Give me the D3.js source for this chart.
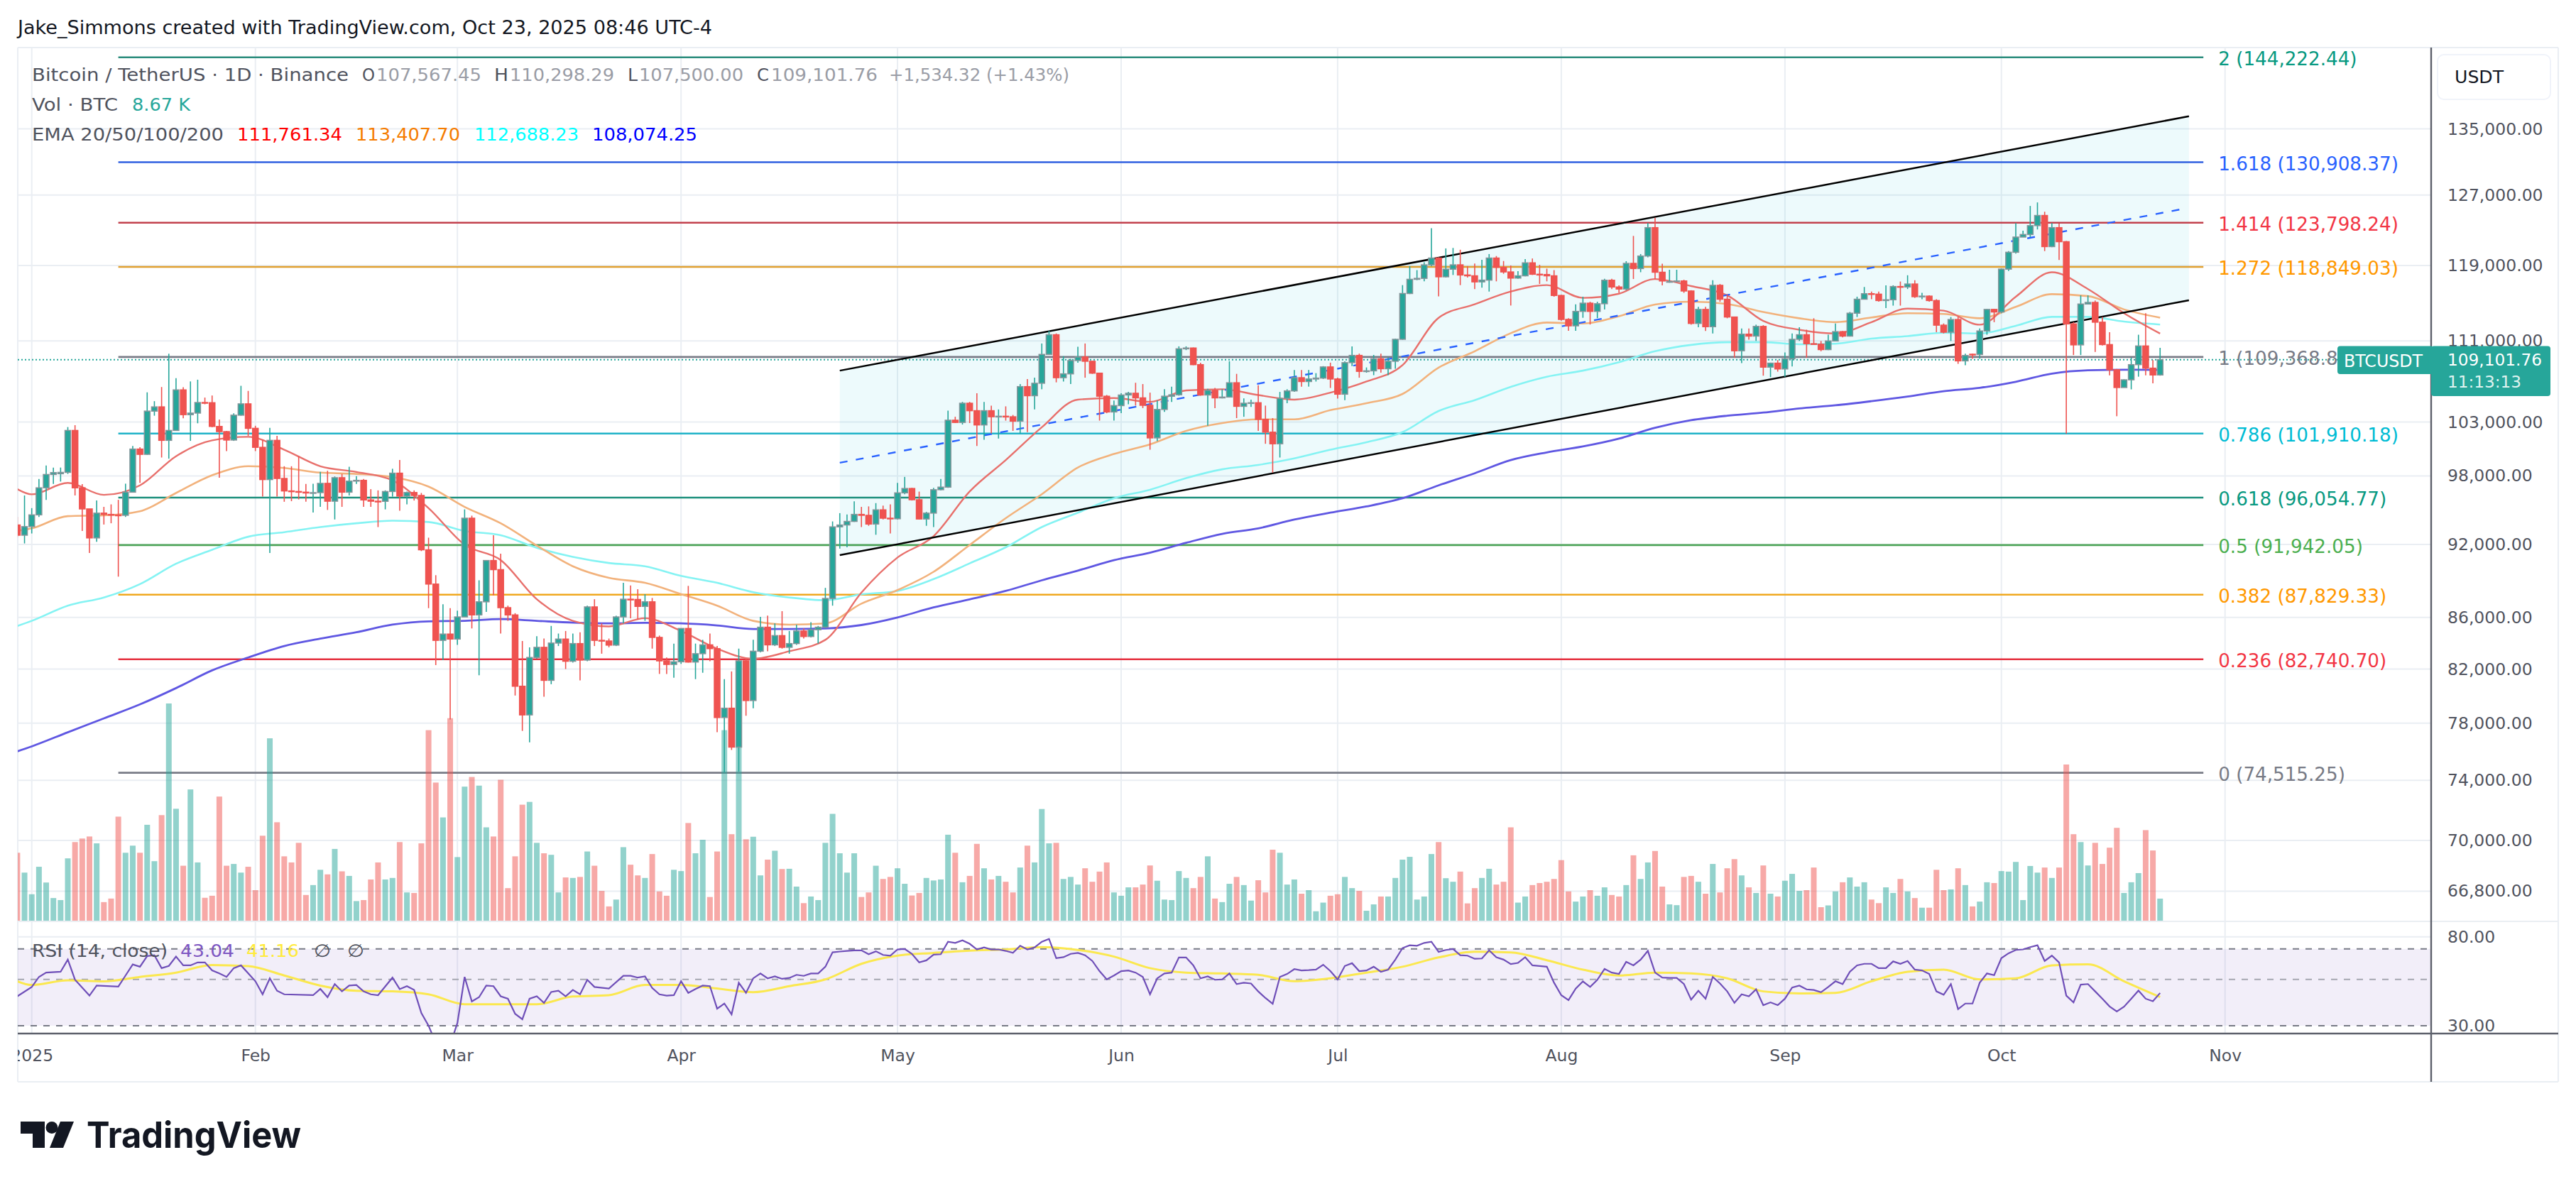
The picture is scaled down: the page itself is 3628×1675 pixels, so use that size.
<!DOCTYPE html>
<html>
<head>
<meta charset="utf-8">
<style>
  html, body { margin: 0; padding: 0; background: #fff; }
  svg { display: block; }
  text { font-family: "DejaVu Sans", sans-serif; }
  .axis .domain { display: none; }
  .axis text { fill: #50535e; font-size: 23.5px; font-family: "DejaVu Sans", sans-serif; }
</style>
</head>
<body>
<div id="chart"></div>
<script src="https://d3js.org/d3.v7.min.js"></script>
<script>
// prices are in thousand USDT, volume in thousand BTC, one candle per day
// day 0 is 1 Jan 2025, the first candle is day -2
var opens = [
93.66,92.78,93.52,94.54,96.93,98.13,98.20,98.32,102.20,96.93,95.06,92.55,94.69,94.58,94.53,94.50,96.54,100.46,99.97,104.04,
104.45,101.27,102.20,106.10,103.70,103.85,104.87,104.85,102.58,102.09,101.30,103.65,104.74,102.40,100.62,97.67,101.27,97.77,96.65,96.60,
96.54,96.47,96.50,97.33,95.74,97.84,96.54,97.53,97.60,95.85,95.74,95.73,96.60,98.25,96.19,96.51,96.25,91.54,88.69,84.20,
84.69,84.30,86.04,94.25,86.20,87.25,90.64,89.88,86.78,86.20,80.71,78.60,82.88,83.66,81.15,83.99,84.30,82.59,83.95,82.68,
86.84,84.20,84.15,83.83,86.04,87.46,87.44,86.88,87.25,84.43,82.62,82.35,82.55,85.13,82.53,83.17,83.85,83.56,78.41,79.09,
76.30,82.62,79.65,83.36,85.23,83.85,84.57,83.66,83.95,84.93,84.50,85.03,85.23,87.52,93.50,93.66,93.97,94.58,94.50,93.74,
94.98,94.25,94.20,96.48,96.87,95.87,94.18,94.69,96.76,96.99,103.17,102.96,104.80,104.08,102.72,104.08,103.50,103.55,103.50,103.08,
106.42,105.53,106.75,109.63,111.64,107.30,107.68,109.01,109.37,108.94,107.75,105.48,103.96,104.57,105.60,105.77,105.32,104.60,101.50,104.20,
105.48,105.62,110.20,110.28,108.60,105.60,106.05,105.32,105.40,106.80,104.50,104.80,104.85,103.25,102.04,100.95,105.27,106.00,107.30,106.92,
107.17,107.26,108.37,107.17,105.68,108.80,109.53,107.93,107.98,109.19,108.19,108.94,111.17,115.97,117.50,117.60,119.08,119.83,117.77,118.60,
119.08,117.97,117.88,117.22,117.41,119.83,118.80,118.30,117.63,117.88,119.30,118.05,118.02,117.88,115.76,113.23,112.56,114.07,114.94,114.07,
114.88,117.40,116.67,116.45,119.24,118.67,120.05,123.24,118.27,117.20,117.26,117.32,116.24,112.81,114.28,112.47,116.85,115.36,113.48,110.00,
111.70,111.50,112.50,108.35,108.75,108.17,109.19,111.17,111.64,110.72,110.67,110.12,111.00,111.96,111.50,113.88,115.36,115.95,115.90,115.22,
115.30,116.72,116.67,116.99,115.63,115.69,115.22,112.63,111.90,113.22,108.98,109.65,109.62,112.03,114.28,114.01,118.61,120.47,122.17,122.46,
123.47,124.63,121.10,123.24,121.65,112.76,110.60,114.85,115.02,112.94,110.63,108.09,106.33,107.09,108.60,110.49,108.25,107.57];
var closes = [
92.78,93.52,94.54,96.93,98.13,98.30,98.32,102.20,96.93,95.06,92.55,94.69,94.58,94.53,94.50,96.54,100.46,99.97,104.04,104.45,
101.27,102.20,106.10,103.70,103.85,104.87,104.85,102.58,102.09,101.30,103.65,104.74,102.40,100.62,97.67,101.27,97.77,96.65,96.60,96.54,
96.47,96.50,97.33,95.74,97.84,96.54,97.53,97.60,95.85,95.74,95.73,96.60,98.25,96.19,96.51,96.25,91.54,88.69,84.20,84.69,
84.30,86.04,94.25,86.20,87.25,90.64,89.88,86.78,86.20,80.71,78.60,82.88,83.66,81.15,83.99,84.30,82.59,83.95,82.68,86.84,
84.20,84.15,83.83,86.04,87.46,87.44,86.88,87.25,84.43,82.62,82.35,82.55,85.13,82.53,83.17,83.85,83.56,78.41,79.09,76.30,
82.62,79.65,83.36,85.23,83.85,84.57,83.66,83.95,84.93,84.50,85.03,85.23,87.52,93.50,93.66,93.97,94.58,94.50,93.74,94.98,
94.25,94.20,96.48,96.87,95.87,94.18,94.69,96.76,96.99,103.17,102.96,104.80,104.08,102.72,104.08,103.50,103.55,103.50,103.08,106.42,
105.53,106.75,109.63,111.64,107.30,107.68,109.01,109.37,108.94,107.75,105.48,103.96,104.57,105.60,105.77,105.32,104.60,101.50,104.20,105.48,
105.62,110.20,110.28,108.60,105.60,106.05,105.32,105.40,106.80,104.50,104.80,104.85,103.25,102.04,100.95,105.27,106.00,107.30,106.92,107.17,
107.26,108.37,107.17,105.68,108.80,109.53,107.93,107.98,109.19,108.19,108.94,111.17,115.97,117.50,117.60,119.08,119.83,117.77,118.60,119.08,
117.97,117.88,117.22,117.41,119.83,118.80,118.30,117.63,117.88,119.30,118.05,118.02,117.88,115.76,113.23,112.56,114.07,114.94,114.07,114.88,
117.40,116.67,116.45,119.24,118.67,120.05,123.24,118.27,117.32,117.26,117.32,116.24,112.81,114.28,112.47,116.85,115.36,113.48,110.00,111.70,
111.50,112.50,108.35,108.75,108.17,109.19,111.17,111.64,110.72,110.67,110.12,111.00,111.96,111.50,113.88,115.36,115.95,115.90,115.22,115.30,
116.72,116.67,116.99,115.63,115.69,115.22,112.63,111.90,113.22,108.98,109.52,109.62,112.03,114.28,114.01,118.61,120.47,122.17,122.46,123.47,
124.63,121.10,123.24,121.65,112.76,110.60,114.85,115.02,112.94,110.63,108.09,106.33,107.09,108.60,110.49,108.25,107.57,109.10];
var highs = [
94.36,96.25,95.13,97.72,98.95,98.76,98.76,102.52,102.70,97.26,95.02,95.80,95.24,95.46,95.86,97.30,100.74,100.63,105.86,105.00,
106.38,109.70,107.25,106.36,106.93,107.10,105.35,105.55,103.24,102.16,103.83,106.50,106.00,102.64,101.33,102.45,101.69,98.88,98.88,99.80,
97.27,97.30,98.36,98.47,97.95,98.18,98.83,97.98,97.72,96.81,96.70,96.70,98.65,99.45,96.60,96.70,96.47,92.57,89.42,87.05,
86.74,86.54,95.02,94.47,89.00,90.64,92.78,91.21,86.94,86.34,84.15,83.66,84.53,84.34,85.33,84.73,84.93,84.73,84.83,86.94,
87.46,85.53,84.34,86.14,88.79,88.58,88.27,87.87,87.56,84.57,82.88,83.95,85.13,88.54,83.95,84.24,84.73,83.76,81.24,81.82,
83.56,82.78,84.24,86.04,86.14,85.53,86.50,84.93,85.43,85.13,85.63,85.33,88.38,93.97,94.69,94.58,95.73,95.24,95.28,95.57,
95.35,95.46,97.38,97.91,96.93,96.59,94.80,96.93,97.72,104.08,103.50,104.93,104.93,105.77,104.93,104.57,104.20,104.50,103.67,106.67,
107.17,107.30,110.74,112.04,111.77,109.45,109.19,110.41,110.74,108.94,107.80,105.60,105.07,105.77,105.90,106.80,106.67,105.83,105.07,106.16,
106.42,110.45,110.45,110.33,108.80,106.20,106.29,106.16,108.94,107.68,105.27,105.15,106.55,104.57,103.37,105.90,106.16,108.07,108.07,108.07,
107.75,108.45,108.80,107.30,108.94,110.45,109.71,108.32,109.58,109.71,109.32,111.25,116.87,118.94,118.50,119.36,123.17,119.90,120.90,120.95,
120.75,118.94,119.22,119.64,120.27,120.05,119.50,119.00,118.38,119.72,119.78,119.08,118.66,118.50,115.84,113.36,114.82,115.63,115.09,115.09,
117.55,117.55,116.85,119.48,122.30,120.27,123.76,124.37,119.20,118.54,118.54,117.45,116.32,114.55,114.55,117.40,116.99,115.90,113.48,112.29,
112.29,112.68,112.63,108.80,109.06,109.83,111.77,112.42,112.16,113.35,111.00,111.64,112.81,112.03,114.01,115.63,116.67,116.17,116.17,116.85,
116.85,117.26,117.94,117.40,116.04,115.77,115.36,112.81,113.48,113.53,109.70,109.70,112.29,114.33,114.33,118.67,120.60,123.76,122.90,125.73,
126.14,125.06,123.76,123.70,121.73,112.94,115.77,115.77,115.22,113.48,111.90,108.17,107.14,109.30,111.64,113.88,109.06,110.30];
var lows = [
92.60,92.08,92.93,94.36,95.85,97.27,97.49,98.18,96.25,93.15,91.27,92.22,93.70,93.81,89.30,94.36,96.60,97.37,99.92,103.60,
99.68,99.57,102.16,103.36,101.22,102.88,104.70,102.50,97.84,100.27,101.22,103.60,101.69,100.27,96.15,91.27,96.15,95.69,95.74,95.90,
95.69,94.75,95.24,94.97,94.14,95.24,96.25,97.27,95.24,95.24,93.48,95.02,96.15,94.90,95.46,95.80,91.43,86.74,82.30,82.68,
78.27,83.85,86.14,85.13,81.53,86.44,87.77,84.73,85.73,80.02,77.45,76.64,82.78,79.93,80.86,83.76,82.00,82.49,81.15,82.59,
83.76,83.17,83.66,83.76,85.53,85.94,85.83,85.73,83.56,81.63,81.63,81.34,82.39,82.49,81.24,81.72,82.59,77.35,74.52,76.10,
74.60,78.54,79.09,83.27,83.36,83.76,83.56,83.17,83.85,84.34,84.43,83.95,85.13,86.94,91.64,91.75,93.92,93.48,93.59,92.82,
94.14,92.93,94.14,96.36,95.80,94.14,93.59,93.48,96.70,96.93,102.90,102.76,102.90,100.75,101.33,101.92,101.44,103.13,102.16,101.92,
102.04,104.20,106.16,109.58,106.84,106.92,106.67,108.80,107.30,107.68,103.13,103.84,103.13,103.84,104.70,104.57,104.33,100.40,101.20,103.96,
104.93,105.53,110.07,108.55,105.53,102.65,104.33,105.27,105.40,103.37,103.50,104.45,102.16,100.95,98.30,99.68,104.80,105.90,106.42,106.42,
106.92,107.17,106.29,105.25,105.10,108.45,107.30,107.80,107.55,107.80,107.55,108.19,111.12,115.91,117.41,117.28,118.94,115.67,117.69,117.97,
116.87,117.69,116.45,116.59,116.18,117.28,118.10,114.69,117.55,117.83,117.97,117.00,117.28,115.63,113.10,112.04,112.04,113.40,112.70,113.36,
114.28,116.45,116.04,116.32,117.53,118.27,119.90,117.53,116.85,117.13,117.26,116.04,112.68,112.42,112.03,111.77,115.09,113.35,109.30,108.75,
111.13,111.00,107.50,107.35,107.90,107.40,108.42,111.00,109.30,110.64,109.95,110.07,111.00,111.37,111.45,113.48,115.36,115.36,115.09,114.42,
114.68,114.68,116.45,115.50,115.36,115.09,111.90,111.77,111.00,108.68,108.55,109.19,109.19,111.64,112.94,113.88,118.40,120.33,122.30,122.17,
123.03,120.60,121.04,119.62,101.90,109.57,109.57,114.94,109.88,110.53,107.53,103.55,106.33,106.15,107.40,107.53,106.74,107.50];
var volumes = [
26.7,18.9,10.4,21.2,15.0,8.9,8.1,24.5,30.9,32.3,33.1,30.4,7.3,8.7,40.9,26.7,29.5,26.7,37.7,23.4,
41.5,85.4,44.0,21.6,51.6,22.9,9.0,9.8,48.8,21.6,22.3,18.9,21.2,12.0,33.4,71.7,38.7,25.3,22.9,30.6,
10.1,14.0,20.0,18.2,28.2,19.4,17.6,7.7,8.1,16.2,22.9,16.2,16.8,30.9,11.1,10.9,30.4,74.9,54.3,40.6,
79.6,25.0,52.7,56.5,53.1,36.7,33.1,55.4,12.8,25.3,45.6,46.7,30.6,26.5,25.9,11.1,17.0,16.8,17.2,27.2,
21.6,11.7,5.6,8.3,28.9,22.0,17.8,16.8,26.2,11.5,9.8,20.0,19.5,38.4,26.5,31.8,9.3,27.2,74.9,34.0,
75.0,32.0,33.0,17.8,24.0,27.5,20.3,20.4,13.4,6.9,9.5,8.1,30.6,42.0,26.5,18.9,26.5,9.3,11.1,21.6,
16.4,17.2,20.6,14.5,9.9,10.9,16.8,15.8,16.2,33.8,26.7,15.1,17.6,30.2,20.6,16.2,17.6,15.3,11.1,20.9,
29.5,22.9,43.9,30.4,30.6,16.4,17.2,14.2,20.6,15.3,19.3,22.9,11.1,9.8,13.1,13.1,14.2,21.7,15.7,8.3,
8.1,19.5,16.8,12.8,17.2,25.3,8.7,7.3,14.5,17.2,14.0,7.9,15.9,11.1,27.9,26.7,14.2,16.2,10.6,12.0,
3.7,7.1,9.8,10.4,17.2,12.8,11.7,3.9,6.4,9.5,9.5,16.8,24.0,25.1,8.3,9.5,26.2,30.9,16.7,15.3,
19.3,6.8,12.8,16.8,20.4,14.2,15.3,36.7,7.1,9.5,14.0,14.8,15.3,16.4,23.8,11.5,7.5,9.5,12.0,9.8,
13.1,10.1,9.5,14.0,25.7,16.4,22.9,27.4,13.4,6.4,6.1,17.2,17.6,15.3,10.6,22.3,11.1,20.6,24.2,17.8,
13.1,10.9,21.7,10.6,9.5,15.7,18.4,11.7,12.0,20.9,5.3,6.0,11.5,15.1,17.0,13.4,15.1,8.3,6.9,13.1,
10.9,16.4,11.5,8.9,5.1,5.1,20.0,12.0,12.3,20.6,14.0,5.6,7.5,15.1,14.8,19.5,19.3,23.1,8.1,21.5,
18.9,20.9,16.8,20.9,61.4,34.0,30.9,21.7,30.6,22.3,28.7,36.5,10.9,15.1,18.7,35.6,27.6,8.67];

var maDays = [-2,0,5,10,15,20,25,30,35,40,45,50,55,60,65,70,75,80,85,90,95,100,105,110,
115,120,125,130,135,140,145,150,155,160,165,170,175,180,185,190,195,200,205,210,
215,220,225,230,235,240,245,250,255,260,265,270,275,280,285,290,295];
var ema20 = [96.82,96.35,97.37,96.30,97.15,99.80,101.27,101.60,100.40,98.88,98.36,97.60,95.13,91.97,90.68,87.46,85.73,85.29,85.94,84.93,83.56,82.78,83.36,84.24,
88.00,90.89,92.70,96.60,99.44,102.50,105.15,105.30,104.93,106.05,106.16,105.60,105.15,105.83,106.92,108.55,113.40,114.82,116.18,116.87,
115.50,115.95,117.53,116.77,115.77,113.07,112.16,111.77,112.94,114.36,114.15,112.68,115.63,118.27,116.45,113.88,111.76];
var ema50 = [93.15,93.37,94.43,94.50,94.86,96.47,98.06,98.88,98.72,98.30,98.18,97.90,97.04,95.24,93.81,91.90,90.16,89.20,88.79,87.87,86.94,85.73,85.43,85.53,
87.10,88.20,89.70,91.95,94.25,96.36,98.76,100.00,100.90,102.16,102.90,103.25,103.25,104.13,104.80,105.70,108.30,109.95,111.80,112.90,
112.80,113.56,114.80,115.10,114.85,114.01,113.35,112.94,113.43,113.88,113.80,113.35,114.55,115.90,115.69,114.28,113.41];
var ema100 = [85.33,85.73,86.94,87.60,88.69,90.37,91.54,92.65,93.04,93.48,93.81,94.03,93.92,93.15,92.78,91.71,90.94,90.43,90.16,89.36,88.79,88.03,87.60,87.38,
87.85,88.13,89.10,90.40,91.75,93.48,94.73,96.00,96.76,97.80,98.60,99.00,99.60,100.40,101.10,102.04,104.05,105.10,106.40,107.40,
108.00,108.85,109.95,110.60,110.87,110.87,110.66,110.72,111.24,111.50,111.85,111.77,112.56,113.50,113.50,113.00,112.69];
var ema200 = [76.00,76.35,77.35,78.35,79.37,80.57,81.90,82.88,83.76,84.33,84.83,85.43,85.69,85.73,85.87,85.73,85.59,85.53,85.57,85.53,85.37,85.09,85.09,85.13,
85.40,86.00,86.80,87.45,88.13,89.00,89.80,90.67,91.30,92.13,92.90,93.37,94.13,94.73,95.28,96.00,97.15,98.24,99.44,100.15,
100.70,101.43,102.45,103.17,103.60,103.90,104.30,104.60,105.00,105.45,105.97,106.30,106.90,107.70,108.03,108.09,108.07];
var rsiMa = [49.0,47.0,49.5,48.9,51.4,53.9,58.6,57.9,52.2,46.7,44.1,43.8,42.4,38.0,38.0,38.0,41.4,42.0,47.0,47.0,45.2,43.4,46.4,50.0,
59.4,65.0,67.0,68.7,69.6,71.4,69.2,64.3,56.6,53.9,53.4,52.6,49.0,50.6,53.9,57.5,63.7,67.8,67.4,61.8,
55.7,52.2,53.9,53.4,50.6,43.8,42.8,43.1,49.0,54.4,55.7,50.0,50.6,58.4,59.0,49.0,41.16];

var rsiDays = [-2,0,1,2,4,5,6,8,9,12,13,14,15,16,17,18,19,20,21,22,23,24,25,26,27,28,29,31,32,33,34,35,39,40,41,42,43,44,45,46,47,48,50,51,52,53,54,55,56,57,58,59,
60,61,62,63,64,65,66,67,68,69,70,71,72,73,74,75,76,77,78,80,82,83,84,85,86,87,88,89,90,91,92,93,94,95,96,97,98,99,
100,101,102,103,104,105,106,107,108,109,110,111,112,113,114,115,116,117,118,119,120,121,122,123,124,125,126,127,128,129,
130,131,132,133,134,135,136,137,138,139,140,141,142,143,144,145,146,147,148,149,150,151,152,153,154,155,156,157,158,159,
160,161,162,163,164,165,166,167,168,169,170,171,172,173,174,175,176,177,178,179,180,181,182,183,184,185,186,187,188,189,
190,191,192,193,194,195,196,197,198,199,200,201,202,203,204,205,206,207,208,209,210,211,212,213,214,215,216,217,218,219,
220,221,222,223,224,225,226,227,228,229,230,231,232,233,234,235,236,237,238,239,240,241,242,243,244,245,246,247,248,249,
250,251,252,253,254,255,256,257,258,259,260,261,262,263,264,265,266,267,268,269,270,271,272,273,274,275,276,277,278,279,
280,281,282,283,284,285,286,287,288,289,290,291,292,293,294,295];
var rsiValues = [41.5,46,51.4,53.9,54.4,62.2,49.8,41.8,46.7,46.2,52.2,59,57.5,64.7,65.3,56.6,58,64.3,58.4,58.4,60.3,60.3,55.2,53.4,51.4,56.6,58.4,49,42.4,50.6,44.1,42.4,42,45,41.1,47.5,43.8,46.7,47,43.8,42.4,42,51,44.9,46.4,44.5,34.5,30,24.8,25.5,24.3,30.9,
51.4,39.2,41.1,46.7,46.4,41.5,40.4,34.2,32.2,40.4,41.5,38.6,43.5,44.1,41.5,44.5,42.4,49.8,46,45.2,52,52,51,51.7,45.5,42.4,41.8,42,49,43.1,45,46.7,46.4,36.2,38.3,34,48.2,43.1,
50.6,53.4,50.6,51.7,50.3,50.8,52.6,52,53.4,53.4,57.5,67.4,68,68.5,68.9,68.9,66,68.2,65.5,65,69.6,70,66.3,60.3,61.7,65.7,66,75.8,74.8,77,
74.1,69.6,71.2,69.6,69.6,68.5,67,72.5,69.6,71.2,75.8,78.2,63.2,63.9,66.3,67,65.3,61.3,54.8,50,52.2,54.8,55.2,53.9,51.4,42.4,50.6,53.4,53.9,63.7,
63.7,58.4,50.6,51.7,49.8,50,53.4,47.5,48.2,47.8,43.8,40.7,38.2,51.4,53.1,56,55.2,55.4,55.7,58.8,54.8,50,58,59.8,54.8,55.2,57.5,54.4,55.7,62.2,
70.7,72.9,72.5,74.8,75.8,67.8,69.2,70,65.3,65,62.8,63,68.9,63.9,62.2,59.2,60,63.9,58.4,58,57.5,48.2,42,39.8,45.2,48.9,46,49.8,56.2,53.9,
53.1,60.7,58.4,62.2,68.5,53.9,51,50.8,50.8,47.5,40,44.1,40.4,51.4,47.8,43.8,38.6,42.4,41.5,44.8,37.6,38.8,37.6,40.4,45.7,46.7,44.8,44.5,43.4,46,
49,47.5,54.4,58.4,59.4,59.4,56.6,56.6,61,59.4,61.3,55.7,55.2,53.1,43.8,42.2,47.5,36,38.3,38.3,48.2,53.4,52.4,63.2,66.7,69.2,69.6,71.4,72.9,61.3,
65,60.3,41.8,38.8,47.2,47.5,43.8,40.4,37.1,35.1,37,40.4,44.2,40.4,39.3,43.04];

var fibLevels = ["2","1.618","1.414","1.272","1","0.786","0.618","0.5","0.382","0.236","0"];
var fibPrices = [144.22244,130.90837,123.79824,118.84903,109.3688,101.91018,96.05477,91.94205,87.82933,82.7407,74.51525];
var fibLabels = ["144,222.44","130,908.37","123,798.24","118,849.03","109,368.80","101,910.18","96,054.77","91,942.05","87,829.33","82,740.70","74,515.25"];
var fibColors = ["#2a8c7c","#3060e0","#c2404c","#e0a030","#787b86","#1fb3c8","#1c8f7c","#4fa55a","#f0a81e","#e5303f","#787b86"];
var fibTextColors = ["#089981","#2962ff","#f23645","#ff9800","#787b86","#00bcd4","#089981","#4caf50","#ff9800","#f23645","#787b86"];
var fibDays = [12,301];

var channelDays = [112,299];
var channelUpper = [108.0,136.58];
var channelLower = [91.09,115.25];
var channelMidDays = [112,298];
var channelMid = [99.2,125.36];

var priceTicks = [135,127,119,111,103,98,92,86,82,78,74,70,66.8];
var rsiTicks = [80,30];
var monthDays = [0,31,59,90,120,151,181,212,243,273,304];
var monthNames = ["2025","Feb","Mar","Apr","May","Jun","Jul","Aug","Sep","Oct","Nov"];
var lastPrice = 109.10176;

var width = 3628, height = 1675;
var paneLeft = 25, axisRight = 3424, outer = 3603;
var paneTop = 67, paneBottom = 1298, rsiBottom = 1456, timeBottom = 1524;

var x = d3.scaleLinear().domain([0, 304]).range([44.7, 3133.7]);
var y = d3.scaleLog().domain([144.22244, 74.51525]).range([80.7, 1088.6]);
var volY = d3.scaleLinear().domain([0, 85.4]).range([1297, 991]);
var rsiY = d3.scaleLog().domain([70, 30]).range([1336.8, 1444.9]);

var candles = opens.map(function (o, i) {
    return { day: i - 2, open: o, close: closes[i], high: highs[i], low: lows[i], vol: volumes[i] };
});
var up = "#26a69a", down = "#ef5350";

var svg = d3.select("#chart").append("svg").attr("width", width).attr("height", height);
svg.append("rect").attr("width", width).attr("height", height).attr("fill", "#fff");

var defs = svg.append("defs");
defs.append("clipPath").attr("id", "mainClip").append("rect")
    .attr("x", paneLeft).attr("y", paneTop).attr("width", axisRight - paneLeft).attr("height", paneBottom - paneTop);
defs.append("clipPath").attr("id", "rsiClip").append("rect")
    .attr("x", paneLeft).attr("y", paneBottom).attr("width", axisRight - paneLeft).attr("height", rsiBottom - paneBottom);
defs.append("clipPath").attr("id", "timeClip").append("rect")
    .attr("x", paneLeft).attr("y", rsiBottom).attr("width", axisRight - paneLeft).attr("height", timeBottom - rsiBottom);

// frame and grid
var gridColor = "#eaeef3";
var grid = svg.append("g").attr("stroke", gridColor).attr("stroke-width", 2);
grid.selectAll(".v").data(monthDays).enter().append("line")
    .attr("x1", function (d) { return x(d); }).attr("x2", function (d) { return x(d); })
    .attr("y1", paneTop).attr("y2", rsiBottom);
grid.selectAll(".h").data(priceTicks).enter().append("line")
    .attr("x1", paneLeft).attr("x2", axisRight)
    .attr("y1", function (d) { return y(d); }).attr("y2", function (d) { return y(d); });
grid.append("line").attr("x1", paneLeft).attr("x2", axisRight).attr("y1", rsiY(80)).attr("y2", rsiY(80));
grid.append("line").attr("x1", paneLeft).attr("x2", outer).attr("y1", paneTop).attr("y2", paneTop);
grid.append("line").attr("x1", paneLeft).attr("x2", outer).attr("y1", paneBottom).attr("y2", paneBottom);
grid.append("line").attr("x1", paneLeft).attr("x2", outer).attr("y1", timeBottom).attr("y2", timeBottom);
grid.append("line").attr("x1", paneLeft).attr("x2", paneLeft).attr("y1", paneTop).attr("y2", timeBottom);
grid.append("line").attr("x1", outer).attr("x2", outer).attr("y1", paneTop).attr("y2", timeBottom);

var main = svg.append("g").attr("clip-path", "url(#mainClip)");

// channel fill
var band = d3.area()
    .x(function (d) { return x(d.day); })
    .y0(function (d) { return y(d.lower); })
    .y1(function (d) { return y(d.upper); });
main.append("path")
    .datum(channelDays.map(function (d, i) { return { day: d, upper: channelUpper[i], lower: channelLower[i] }; }))
    .attr("d", band).attr("fill", "#00bcd4").attr("fill-opacity", 0.07);

// fib levels
main.selectAll(".fib").data(fibPrices).enter().append("line")
    .attr("x1", x(fibDays[0])).attr("x2", x(fibDays[1]))
    .attr("y1", function (d) { return y(d); }).attr("y2", function (d) { return y(d); })
    .attr("stroke", function (d, i) { return fibColors[i]; })
    .attr("stroke-width", 2.6);

// last price dotted line
main.append("line").attr("x1", paneLeft).attr("x2", axisRight)
    .attr("y1", y(lastPrice)).attr("y2", y(lastPrice))
    .attr("stroke", up).attr("stroke-width", 2).attr("stroke-dasharray", "2 3");

// volume
main.selectAll(".vol").data(candles).enter().append("rect")
    .attr("x", function (d) { return x(d.day) - 4; })
    .attr("width", 8)
    .attr("y", function (d) { return volY(d.vol); })
    .attr("height", function (d) { return volY(0) - volY(d.vol); })
    .attr("fill", function (d) { return d.close >= d.open ? up : down; })
    .attr("fill-opacity", 0.5);

// moving averages
var maLine = d3.line()
    .x(function (d) { return x(d.day); })
    .y(function (d) { return y(d.value); })
    .curve(d3.curveMonotoneX);
[[ema200, "#5f57e2", 2.8], [ema100, "#85f3f3", 2.6], [ema50, "#f2b27c", 2.6], [ema20, "#e8706c", 2.4]].forEach(function (s) {
    main.append("path")
        .datum(maDays.map(function (d, i) { return { day: d, value: s[0][i] }; }))
        .attr("d", maLine).attr("fill", "none").attr("stroke", s[1]).attr("stroke-width", s[2]);
});

// channel lines
[[channelDays, channelUpper, "#000", null, 2.5], [channelDays, channelLower, "#000", null, 2.5], [channelMidDays, channelMid, "#2962ff", "11 12", 2.4]].forEach(function (s) {
    main.append("line")
        .attr("x1", x(s[0][0])).attr("x2", x(s[0][1]))
        .attr("y1", y(s[1][0])).attr("y2", y(s[1][1]))
        .attr("stroke", s[2]).attr("stroke-width", s[4]).attr("stroke-dasharray", s[3]);
});

// candles
var candle = main.selectAll(".candle").data(candles).enter().append("g");
candle.append("line")
    .attr("x1", function (d) { return x(d.day); }).attr("x2", function (d) { return x(d.day); })
    .attr("y1", function (d) { return y(d.high); }).attr("y2", function (d) { return y(d.low); })
    .attr("stroke", function (d) { return d.close >= d.open ? up : down; })
    .attr("stroke-width", 1.6);
candle.append("rect")
    .attr("x", function (d) { return x(d.day) - 4; })
    .attr("width", 8)
    .attr("y", function (d) { return y(Math.max(d.open, d.close)); })
    .attr("height", function (d) { return Math.max(1, Math.abs(y(d.open) - y(d.close))); })
    .attr("fill", function (d) { return d.close >= d.open ? up : down; })
    .attr("stroke", function (d) { return d.close >= d.open ? "#84959a" : down; })
    .attr("stroke-width", 1.5);

// rsi pane
var rsiG = svg.append("g").attr("clip-path", "url(#rsiClip)");
rsiG.append("rect").attr("x", paneLeft).attr("width", axisRight - paneLeft)
    .attr("y", rsiY(70)).attr("height", rsiY(30) - rsiY(70))
    .attr("fill", "#7e57c2").attr("fill-opacity", 0.1);
[[70, "#787b86"], [50, "#a5a7b0"], [30, "#787b86"]].forEach(function (s) {
    rsiG.append("line").attr("x1", paneLeft).attr("x2", axisRight)
        .attr("y1", rsiY(s[0])).attr("y2", rsiY(s[0]))
        .attr("stroke", s[1]).attr("stroke-width", 2).attr("stroke-dasharray", "9 9");
});
rsiG.append("path")
    .datum(maDays.map(function (d, i) { return { day: d, value: rsiMa[i] }; }))
    .attr("d", d3.line().x(function (d) { return x(d.day); }).y(function (d) { return rsiY(d.value); }).curve(d3.curveMonotoneX))
    .attr("fill", "none").attr("stroke", "#fbe84f").attr("stroke-width", 3);
rsiG.append("path")
    .datum(rsiDays.map(function (d, i) { return { day: d, value: rsiValues[i] }; }))
    .attr("d", d3.line().x(function (d) { return x(d.day); }).y(function (d) { return rsiY(d.value); }))
    .attr("fill", "none").attr("stroke", "#6f4fb8").attr("stroke-width", 2.2);

// fib labels
svg.selectAll(".fibLabel").data(fibLevels).enter().append("text")
    .attr("x", x(fibDays[1]) + 21)
    .attr("y", function (d, i) { return y(fibPrices[i]) + 11; })
    .attr("font-size", 26.2)
    .attr("fill", function (d, i) { return fibTextColors[i]; })
    .text(function (d, i) { return d + " (" + fibLabels[i] + ")"; });

// axes
var priceAxis = d3.axisRight(y).tickValues(priceTicks).tickSize(0).tickPadding(23)
    .tickFormat(function (d) { return d3.format(",.2f")(d * 1000); });
svg.append("g").attr("class", "axis").attr("transform", "translate(" + axisRight + ",0)").call(priceAxis);
var rsiAxis = d3.axisRight(rsiY).tickValues(rsiTicks).tickSize(0).tickPadding(23)
    .tickFormat(d3.format(".2f"));
svg.append("g").attr("class", "axis").attr("transform", "translate(" + axisRight + ",0)").call(rsiAxis);
var timeAxis = d3.axisBottom(x).tickValues(monthDays).tickSize(0).tickPadding(22)
    .tickFormat(function (d, i) { return monthNames[i]; });
svg.append("g").attr("clip-path", "url(#timeClip)")
    .append("g").attr("class", "axis").attr("transform", "translate(0," + rsiBottom + ")").call(timeAxis);

// axis lines
var dark = "#5d606b";
svg.append("line").attr("x1", axisRight).attr("x2", axisRight).attr("y1", paneTop).attr("y2", timeBottom)
    .attr("stroke", dark).attr("stroke-width", 2.4);
svg.append("line").attr("x1", paneLeft).attr("x2", outer).attr("y1", rsiBottom).attr("y2", rsiBottom)
    .attr("stroke", dark).attr("stroke-width", 2.4);

// last price tags
svg.append("rect").attr("x", 3292).attr("y", 487.5).attr("width", 135).attr("height", 39.5).attr("rx", 4).attr("fill", up);
svg.append("rect").attr("x", 3424).attr("y", 487.5).attr("width", 168).attr("height", 70.5).attr("rx", 4).attr("fill", up);
function label(txt, px, py, size, fill, len, weight) {
    var t = svg.append("text").attr("x", px).attr("y", py).attr("font-size", size).attr("fill", fill).text(txt);
    if (len) t.attr("textLength", len).attr("lengthAdjust", "spacingAndGlyphs");
    if (weight) t.attr("font-weight", weight);
    return t;
}
label("BTCUSDT", 3301, 517, 24, "#fff", 111);
label("109,101.76", 3447, 515, 23.5, "#fff", 133);
label("11:13:13", 3447, 546, 23.5, "#dff3f0", 104);

// USDT button
svg.append("rect").attr("x", 3433).attr("y", 77).attr("width", 159).attr("height", 63).attr("rx", 9)
    .attr("fill", "#fff").attr("stroke", "#f0f3fa").attr("stroke-width", 2);
label("USDT", 3457, 117, 24, "#131722", 69);

// header and legends
var grey = "#50535e", soft = "#9a9da6";
label("Jake_Simmons created with TradingView.com, Oct 23, 2025 08:46 UTC-4", 25, 48, 26, "#131722", 978);
label("Bitcoin / TetherUS · 1D · Binance", 45, 114, 25, grey, 446);
label("O", 510, 114, 25, grey, 18);
label("107,567.45", 530, 114, 25, soft, 148);
label("H", 696, 114, 25, grey, 20);
label("110,298.29", 718, 114, 25, soft, 147);
label("L", 884, 114, 25, grey, 14);
label("107,500.00", 900, 114, 25, soft, 147);
label("C", 1066, 114, 25, grey, 17);
label("109,101.76", 1086, 114, 25, soft, 150);
label("+1,534.32 (+1.43%)", 1252, 114, 25, soft, 254);
label("Vol · BTC", 45, 156, 25, grey, 121);
label("8.67 K", 186, 156, 25, "#26a69a", 82);
label("EMA 20/50/100/200", 45, 198, 25, grey, 270);
label("111,761.34", 334, 198, 25, "#ff0000", 148);
label("113,407.70", 501, 198, 25, "#f57c00", 147);
label("112,688.23", 668, 198, 25, "#00ffff", 147);
label("108,074.25", 834, 198, 25, "#0000ff", 148);
label("RSI (14, close)", 45, 1348, 25, grey, 191);
label("43.04", 254, 1348, 25, "#7e57c2", 76);
label("41.16", 347, 1348, 25, "#ffeb3b", 74);
label("∅", 442, 1348, 25, grey, 24);
label("∅", 489, 1348, 25, grey, 24);

// footer logo
var logo = svg.append("g").attr("fill", "#131722");
logo.append("path").attr("d", "M29 1580H63V1617H46V1597H29Z");
logo.append("circle").attr("cx", 73).attr("cy", 1588.5).attr("r", 8.5);
logo.append("path").attr("d", "M85 1580H104L89 1617H70Z");
label("TradingView", 122, 1617, 51, "#131722", 302, 700).style("font-family", "Inter, sans-serif");
</script>
</body>
</html>
